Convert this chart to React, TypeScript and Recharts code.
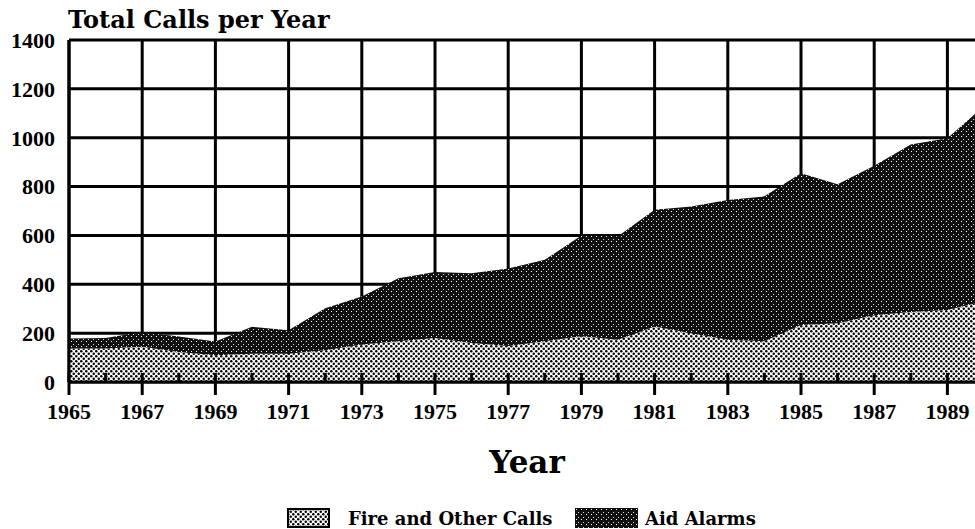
import React from "react"
import { Area, AreaChart, CartesianGrid, XAxis, YAxis } from "recharts"

const years = [
  1965, 1966, 1967, 1968, 1969, 1970, 1971, 1972, 1973, 1974, 1975, 1976, 1977,
  1978, 1979, 1980, 1981, 1982, 1983, 1984, 1985, 1986, 1987, 1988, 1989, 1990,
]
const fireCalls = [
  137, 137, 144, 123, 110, 116, 116, 130, 153, 167, 180, 160, 147,
  167, 187, 173, 227, 200, 173, 167, 233, 240, 273, 287, 295, 330,
]
const aidAlarms = [
  41, 43, 61, 63, 56, 110, 96, 172, 197, 258, 270, 285, 318,
  333, 413, 424, 478, 518, 572, 593, 622, 570, 612, 685, 703, 800,
]
const labelYears = [1965, 1967, 1969, 1971, 1973, 1975, 1977, 1979, 1981, 1983, 1985, 1987, 1989]
const callTicks = [0, 200, 400, 600, 800, 1000, 1200, 1400]

const chartData = years.map((year, i) => ({ year, fire: fireCalls[i], aid: aidAlarms[i] }))

const textFont = "'DejaVu Serif', serif"
const numFont = "'Liberation Serif', serif"

function YearTick(props: any) {
  const { x, y, payload } = props
  const major = labelYears.includes(payload.value)
  return (
    <g>
      <line x1={x} x2={x} y1={y - 9} y2={y + (major ? 13 : 0)} stroke="#000" strokeWidth={3} />
      {major && (
        <text x={x} y={y + 37} textAnchor="middle" fontFamily={numFont} fontWeight="bold" fontSize={22} fill="#000">
          {payload.value}
        </text>
      )}
    </g>
  )
}

function FirePattern({ id }: { id: string }) {
  return (
    <pattern id={id} patternUnits="userSpaceOnUse" width={5} height={5}>
      <rect width={5} height={5} fill="#fff" />
      <circle cx={1.25} cy={1.25} r={1.25} fill="#000" />
      <circle cx={3.75} cy={3.75} r={1.25} fill="#000" />
    </pattern>
  )
}

function AidPattern({ id }: { id: string }) {
  return (
    <pattern id={id} patternUnits="userSpaceOnUse" width={5} height={5}>
      <rect width={5} height={5} fill="#111" />
      <rect x={1} y={1} width={1} height={1} fill="#fff" />
      <rect x={3} y={4} width={1} height={1} fill="#ddd" />
    </pattern>
  )
}

export default function App() {
  return (
    <div style={{ position: "fixed", left: 0, top: 0, width: 975, height: 529, overflow: "hidden", background: "#fff" }}>
      <AreaChart width={984} height={529} data={chartData} margin={{ top: 40, right: 0, left: 0, bottom: 107 }}>
        <defs>
          <FirePattern id="fireFill" />
          <AidPattern id="aidFill" />
        </defs>
        <CartesianGrid stroke="#000" strokeWidth={3} horizontalValues={callTicks} verticalValues={labelYears} />
        <Area
          type="linear"
          dataKey="fire"
          stackId="calls"
          stroke="none"
          fill="url(#fireFill)"
          fillOpacity={1}
          isAnimationActive={false}
          activeDot={false}
        />
        <Area
          type="linear"
          dataKey="aid"
          stackId="calls"
          stroke="none"
          fill="url(#aidFill)"
          fillOpacity={1}
          isAnimationActive={false}
          activeDot={false}
        />
        <XAxis
          dataKey="year"
          type="number"
          domain={[1965, 1990]}
          ticks={years}
          interval={0}
          height={40}
          tickSize={0}
          tickMargin={0}
          axisLine={{ stroke: "#000", strokeWidth: 3 }}
          tick={<YearTick />}
        />
        <YAxis
          type="number"
          domain={[0, 1400]}
          ticks={callTicks}
          width={69}
          tickSize={0}
          tickMargin={14}
          axisLine={{ stroke: "#000", strokeWidth: 3 }}
          tick={{ fill: "#000", fontFamily: numFont, fontWeight: "bold", fontSize: 22 }}
        />
      </AreaChart>

      <div style={{ position: "absolute", left: 68, top: 8, fontFamily: textFont, fontWeight: "bold", fontSize: 24, lineHeight: 1 }}>
        Total Calls per Year
      </div>
      <div style={{ position: "absolute", left: 427, top: 447, width: 200, textAlign: "center", fontFamily: textFont, fontWeight: "bold", fontSize: 31, lineHeight: 1 }}>
        Year
      </div>

      <svg style={{ position: "absolute", left: 287, top: 508 }} width={43} height={20}>
        <defs>
          <FirePattern id="fireLegend" />
        </defs>
        <rect x={1} y={1} width={41} height={18} fill="url(#fireLegend)" stroke="#000" strokeWidth={2} />
      </svg>
      <div style={{ position: "absolute", left: 348, top: 510, fontFamily: textFont, fontWeight: "bold", fontSize: 18, lineHeight: 1 }}>
        Fire and Other Calls
      </div>
      <svg style={{ position: "absolute", left: 575, top: 508 }} width={63} height={20}>
        <defs>
          <AidPattern id="aidLegend" />
        </defs>
        <rect x={0} y={0} width={63} height={20} fill="url(#aidLegend)" />
      </svg>
      <div style={{ position: "absolute", left: 645, top: 510, fontFamily: textFont, fontWeight: "bold", fontSize: 18, lineHeight: 1 }}>
        Aid Alarms
      </div>
    </div>
  )
}
